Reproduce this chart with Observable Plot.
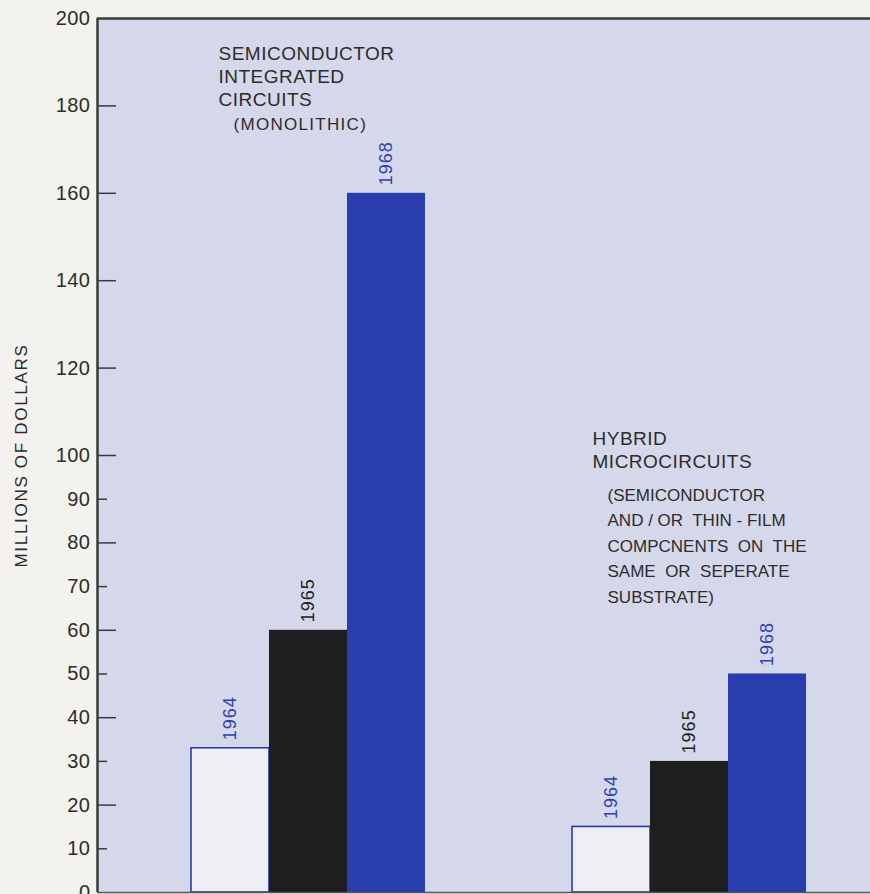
<!DOCTYPE html>
<html>
<head>
<meta charset="utf-8">
<script src="https://cdn.jsdelivr.net/npm/d3@7"></script>
<script src="https://cdn.jsdelivr.net/npm/@observablehq/plot@0.6"></script>
<style>
  html, body { margin: 0; padding: 0; background: #f3f2ee; }
  #chart { width: 870px; height: 894px; overflow: hidden; }
</style>
</head>
<body>
<div id="chart"></div>
<script>
// ---- data ----
const years = ["1964", "1965", "1968"];
const groups = ["monolithic", "hybrid"];
const monolithicValues = [33, 60, 160];
const hybridValues = [15, 30, 50];
const yTickLabels = [0, 10, 20, 30, 40, 50, 60, 70, 80, 90, 100, 120, 140, 160, 180, 200];
const majorTicks = [20, 40, 60, 80, 100, 120, 140, 160, 180];
const minorTicks = [10, 30, 50, 70, 90];
const yLabel = "MILLIONS OF DOLLARS";
const monoTitle = ["SEMICONDUCTOR", "INTEGRATED", "CIRCUITS"];
const monoNote = ["(MONOLITHIC)"];
const hybridTitle = ["HYBRID", "MICROCIRCUITS"];
const hybridNote = ["(SEMICONDUCTOR", "AND / OR  THIN - FILM", "COMPCNENTS  ON  THE", "SAME  OR  SEPERATE", "SUBSTRATE)"];

// ---- layout / style ----
const W = 870, H = 894;
const groupStart = {monolithic: 1.205, hybrid: 6.09}; // in bar-width units
const colors = {"1964": "#eeeef3", "1965": "#1e1e21", "1968": "#2a3dad"};
const labelColors = {"1964": "#2f42b0", "1965": "#222", "1968": "#2f42b0"};
const ink = "#2c2c2c";

const rows = [];
groups.forEach(g => {
  const vals = g === "monolithic" ? monolithicValues : hybridValues;
  years.forEach((yr, j) => rows.push({group: g, year: yr, idx: j, value: vals[j]}));
});
const bx1 = d => groupStart[d.group] + d.idx;
const bx2 = d => groupStart[d.group] + d.idx + 1;
const bxm = d => groupStart[d.group] + d.idx + 0.5;

const plot = Plot.plot({
  width: W, height: H,
  marginLeft: 97, marginRight: 0, marginTop: 18, marginBottom: 2,
  style: {background: "transparent", fontFamily: "Liberation Sans, Arial, sans-serif", color: ink, overflow: "visible"},
  x: {type: "linear", domain: [0, 773 / 78], axis: null},
  y: {domain: [0, 200], axis: null},
  marks: [
    Plot.frame({fill: "#d5d8ea", stroke: null}),
    // bars
    Plot.rectY(rows.filter(d => d.year === "1964"), {x1: bx1, x2: bx2, y1: 0, y2: "value", fill: colors["1964"], stroke: "#2a3dad", strokeWidth: 1.6}),
    Plot.rectY(rows.filter(d => d.year !== "1964"), {x1: bx1, x2: bx2, y1: 0, y2: "value", fill: d => colors[d.year]}),
    // year labels
    Plot.text(rows, {x: bxm, y: "value", text: "year", rotate: -90, textAnchor: "start", dy: -8,
      fill: d => labelColors[d.year], fontSize: 18, ariaDescription: "yearlabels"}),
    // frame lines
    Plot.ruleY([200], {stroke: "#3a3a3a", strokeWidth: 2.5}),
    Plot.ruleY([0], {stroke: "#555", strokeWidth: 1.5}),
    Plot.ruleX([0], {stroke: "#3a3a3a", strokeWidth: 2.5}),
    // axis ticks (inward)
    Plot.axisY({ticks: majorTicks, tickSize: -19, fill: "none", stroke: "#3a3a3a", strokeWidth: 1.5, label: null}),
    Plot.axisY({ticks: minorTicks, tickSize: -10, fill: "none", stroke: "#3a3a3a", strokeWidth: 1.5, label: null}),
    // tick labels
    Plot.text(yTickLabels, {y: d => d, frameAnchor: "left", dx: -7, textAnchor: "end", fontSize: 20, fill: ink,
      text: d => String(d), ariaDescription: "yticks"}),
    Plot.text([yLabel], {frameAnchor: "left", dx: -76, rotate: -90, textAnchor: "middle", fontSize: 17, fill: ink, ariaDescription: "ylabel"}),
    // annotations
    Plot.text([monoTitle.join("\n")], {x: groupStart.monolithic, y: 194.2, dx: 27, textAnchor: "start", lineAnchor: "top",
      lineHeight: 1.21, fontSize: 19, fill: ink, ariaDescription: "title"}),
    Plot.text([monoNote.join("\n")], {x: groupStart.monolithic, y: 177.2, dx: 42, textAnchor: "start", lineAnchor: "top",
      fontSize: 17, fill: ink, ariaDescription: "mononote"}),
    Plot.text([hybridTitle.join("\n")], {x: groupStart.hybrid, y: 106.2, dx: 20, textAnchor: "start", lineAnchor: "top",
      lineHeight: 1.21, fontSize: 19, fill: ink, ariaDescription: "title"}),
    Plot.text([hybridNote.join("\n")], {x: groupStart.hybrid, y: 93.8, dx: 35, textAnchor: "start", lineAnchor: "top",
      lineHeight: 1.5, fontSize: 17, fill: ink, ariaDescription: "hybridnote"})
  ]
});

const sel = d3.select(plot);
sel.selectAll('[aria-description="title"]').style("letter-spacing", "0.5px");
sel.selectAll('[aria-description="mononote"]').style("letter-spacing", "1.3px");
sel.selectAll('[aria-description="hybridnote"]').style("letter-spacing", "0px");
sel.selectAll('[aria-description="ylabel"]').style("letter-spacing", "1.7px");
sel.selectAll('[aria-description="yearlabels"]').style("letter-spacing", "1px");
sel.selectAll('[aria-description="yticks"]').style("letter-spacing", "0.5px");
document.getElementById("chart").appendChild(plot);
</script>
</body>
</html>
